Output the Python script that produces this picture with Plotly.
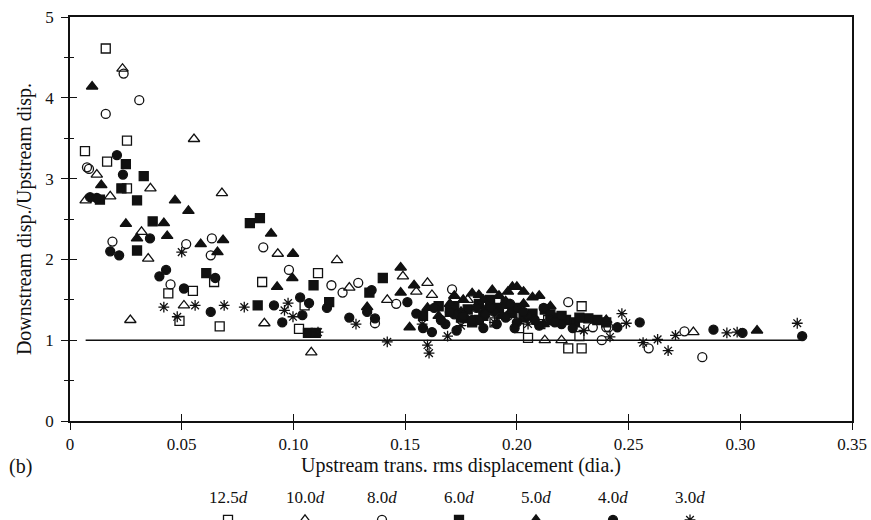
import plotly.graph_objects as go

# Upstream transverse rms displacement (dia.) and displacement ratio, by spacing
sq_open_x = [0.016, 0.0067, 0.0255, 0.0166, 0.0255, 0.044, 0.055, 0.049, 0.067, 0.0645, 0.086, 0.111,
             0.105, 0.1025, 0.229, 0.205, 0.223, 0.229, 0.228, 0.214, 0.201, 0.2105, 0.190]
sq_open_y = [4.61, 3.34, 3.47, 3.21, 2.88, 1.58, 1.61, 1.24, 1.17, 1.72, 1.72, 1.83,
             1.43, 1.14, 1.42, 1.03, 0.90, 0.90, 1.05, 1.25, 1.15, 1.20, 1.22]

tri_open_x = [0.0235, 0.0555, 0.012, 0.036, 0.007, 0.018, 0.032, 0.035, 0.051, 0.027, 0.068, 0.093,
              0.087, 0.108, 0.1195, 0.160, 0.162, 0.142, 0.149, 0.178, 0.2125, 0.220, 0.279, 0.189,
              0.155, 0.207, 0.125]
tri_open_y = [4.36, 3.49, 3.05, 2.88, 2.73, 2.78, 2.34, 2.01, 1.43, 1.25, 2.82, 2.07,
              1.21, 0.85, 1.99, 1.71, 1.56, 1.50, 1.79, 1.50, 1.00, 1.00, 1.10, 1.40,
              1.60, 1.30, 1.65]

cir_open_x = [0.024, 0.031, 0.016, 0.0076, 0.0085, 0.019, 0.052, 0.045, 0.0635, 0.063, 0.0865, 0.098,
              0.117, 0.129, 0.122, 0.171, 0.1365, 0.223, 0.234, 0.241, 0.238, 0.240, 0.259, 0.275,
              0.283, 0.146, 0.196]
cir_open_y = [4.30, 3.97, 3.80, 3.14, 3.12, 2.22, 2.19, 1.69, 2.26, 2.05, 2.15, 1.87,
              1.68, 1.71, 1.59, 1.63, 1.21, 1.47, 1.16, 1.16, 1.00, 1.16, 0.90, 1.11,
              0.79, 1.45, 1.30]

sq_fill_x = [0.025, 0.033, 0.023, 0.030, 0.0134, 0.037, 0.030, 0.0805, 0.085, 0.061, 0.109, 0.116,
             0.084, 0.1065, 0.110, 0.140, 0.134, 0.207, 0.2125, 0.170, 0.175, 0.180, 0.185, 0.192,
             0.198, 0.203, 0.218, 0.222, 0.226, 0.232, 0.236, 0.165, 0.158,
             0.172, 0.178, 0.183, 0.188, 0.195, 0.200, 0.215, 0.220, 0.228, 0.240, 0.183]
sq_fill_y = [3.18, 3.03, 2.88, 2.73, 2.74, 2.47, 2.11, 2.45, 2.51, 1.83, 1.68, 1.47,
             1.43, 1.09, 1.09, 1.77, 1.59, 1.33, 1.38, 1.35, 1.28, 1.22, 1.30, 1.40,
             1.34, 1.28, 1.28, 1.25, 1.22, 1.27, 1.25, 1.42, 1.30,
             1.42, 1.38, 1.45, 1.50, 1.45, 1.40, 1.32, 1.30, 1.28, 1.22, 1.25]

tri_fill_x = [0.0099, 0.014, 0.047, 0.053, 0.025, 0.042, 0.030, 0.0435, 0.0585, 0.0685, 0.066, 0.090,
              0.0998, 0.0995, 0.0927, 0.148, 0.154, 0.148, 0.133, 0.152, 0.160, 0.189, 0.198, 0.200,
              0.207, 0.183, 0.3075, 0.170, 0.176, 0.186, 0.193, 0.203, 0.212, 0.165, 0.178, 0.195, 0.240,
              0.172, 0.180, 0.185, 0.192, 0.196, 0.203, 0.210, 0.215, 0.190, 0.197, 0.175]
tri_fill_y = [4.14, 2.92, 2.73, 2.60, 2.44, 2.45, 2.26, 2.29, 2.19, 2.24, 2.09, 2.32,
              2.07, 1.77, 1.66, 1.90, 1.68, 1.59, 1.41, 1.16, 1.40, 1.62, 1.66, 1.66,
              1.53, 1.56, 1.12, 1.45, 1.50, 1.38, 1.30, 1.45, 1.20, 1.30, 1.25, 1.48, 1.25,
              1.55, 1.58, 1.50, 1.55, 1.60, 1.60, 1.55, 1.42, 1.40, 1.35, 1.35]

cir_fill_x = [0.021, 0.0237, 0.009, 0.012, 0.018, 0.022, 0.0358, 0.040, 0.043, 0.051, 0.063, 0.0913,
              0.103, 0.095, 0.104, 0.107, 0.065, 0.135, 0.133, 0.1365, 0.151, 0.155, 0.255, 0.245,
              0.288, 0.301, 0.3277, 0.168, 0.172, 0.180, 0.185, 0.190, 0.195, 0.200, 0.205, 0.210,
              0.215, 0.220, 0.225, 0.162, 0.188, 0.197, 0.115, 0.125,
              0.170, 0.176, 0.182, 0.186, 0.191, 0.199, 0.203, 0.208, 0.212, 0.217, 0.173, 0.166,
              0.158, 0.163]
cir_fill_y = [3.29, 3.05, 2.77, 2.76, 2.10, 2.05, 2.26, 1.79, 1.87, 1.64, 1.35, 1.43,
              1.53, 1.22, 1.31, 1.46, 1.77, 1.62, 1.35, 1.27, 1.47, 1.33, 1.22, 1.16,
              1.13, 1.09, 1.05, 1.20, 1.32, 1.25, 1.15, 1.35, 1.28, 1.22, 1.30, 1.18,
              1.25, 1.20, 1.15, 1.10, 1.40, 1.45, 1.40, 1.28,
              1.35, 1.30, 1.40, 1.32, 1.20, 1.15, 1.35, 1.25, 1.40, 1.22, 1.12, 1.25,
              1.15, 1.40]

ast_x = [0.042, 0.056, 0.050, 0.048, 0.069, 0.078, 0.0976, 0.096, 0.0998, 0.111, 0.128, 0.142,
         0.1576, 0.160, 0.1607, 0.169, 0.247, 0.249, 0.2417, 0.2565, 0.263, 0.2677, 0.271, 0.294,
         0.2986, 0.3255, 0.175, 0.190, 0.205, 0.230]
ast_y = [1.41, 1.43, 2.09, 1.29, 1.43, 1.41, 1.46, 1.37, 1.29, 1.10, 1.20, 0.98,
         1.20, 0.94, 0.84, 1.05, 1.33, 1.21, 1.04, 0.97, 1.01, 0.87, 1.06, 1.09,
         1.10, 1.21, 1.18, 1.22, 1.20, 1.12]

# unit-ratio reference line
ref_x = [0.007, 0.328]
ref_y = [1.0, 1.0]

series_names = ["12.5<i>d</i>", "10.0<i>d</i>", "8.0<i>d</i>", "6.0<i>d</i>",
                "5.0<i>d</i>", "4.0<i>d</i>", "3.0<i>d</i>"]

FONT = "Liberation Serif"
INK = "#111111"

series = [
    (sq_open_x, sq_open_y, "square-open", 9),
    (tri_open_x, tri_open_y, "triangle-up-open", 10),
    (cir_open_x, cir_open_y, "circle-open", 9),
    (sq_fill_x, sq_fill_y, "square", 9),
    (tri_fill_x, tri_fill_y, "triangle-up", 10),
    (cir_fill_x, cir_fill_y, "circle", 9),
    (ast_x, ast_y, "asterisk-open", 9),
]

fig = go.Figure()

fig.add_trace(go.Scatter(x=ref_x, y=ref_y, mode="lines",
                         line=dict(color=INK, width=1.6), showlegend=False))

for (xs, ys, sym, sz), name in zip(series, series_names):
    fig.add_trace(go.Scatter(
        x=xs, y=ys, mode="markers", name=" ",
        marker=dict(symbol=sym, size=sz, color=INK, line=dict(color=INK, width=1.3)),
        showlegend=True,
    ))

# companion axes carry the inward half of the crossing tick marks
fig.add_trace(go.Scatter(x=[], y=[], xaxis="x2", yaxis="y2", showlegend=False))

tick_font = dict(family=FONT, size=17, color=INK)
title_font = dict(family=FONT, size=20, color=INK)

fig.update_layout(
    width=871, height=520,
    margin=dict(l=70, r=19, t=17, b=99, autoexpand=False),
    paper_bgcolor="white", plot_bgcolor="white",
    font=dict(family=FONT, size=16, color=INK),
    xaxis=dict(range=[0, 0.35], tickvals=[0, 0.05, 0.10, 0.15, 0.20, 0.25, 0.30, 0.35],
               ticktext=["0", "0.05", "0.10", "0.15", "0.20", "0.25", "0.30", "0.35"],
               ticks="outside", ticklen=7, tickwidth=1.3, tickcolor=INK,
               showline=True, linecolor=INK, linewidth=1.5, mirror=True,
               showgrid=False, zeroline=False, tickfont=tick_font,
               title=dict(text="Upstream trans. rms displacement (dia.)", font=title_font, standoff=4)),
    yaxis=dict(range=[0, 5], tickvals=[0, 1, 2, 3, 4, 5],
               ticks="outside", ticklen=7, tickwidth=1.3, tickcolor=INK,
               minor=dict(dtick=0.5, ticks="outside", ticklen=4, tickwidth=1.2, tickcolor=INK),
               showline=True, linecolor=INK, linewidth=1.5, mirror=True,
               showgrid=False, zeroline=False, tickfont=tick_font, ticklabelstandoff=4,
               title=dict(text="Downstream disp./Upstream disp.", font=title_font, standoff=8)),
    xaxis2=dict(overlaying="x", matches="x", anchor="y2", side="bottom",
                tickvals=[0.05, 0.10, 0.15, 0.20, 0.25, 0.30],
                ticks="inside", ticklen=7, tickwidth=1.3, tickcolor=INK,
                showticklabels=False, showgrid=False, zeroline=False, showline=False),
    yaxis2=dict(overlaying="y", matches="y", anchor="x2", side="left",
                tickvals=[1, 2, 3, 4],
                ticks="inside", ticklen=7, tickwidth=1.3, tickcolor=INK,
                minor=dict(dtick=0.5, ticks="inside", ticklen=4, tickwidth=1.2, tickcolor=INK),
                showticklabels=False, showgrid=False, zeroline=False, showline=False),
    legend=dict(orientation="h", x=(208 - 70) / 782, xanchor="left", y=-0.203, yanchor="top",
                entrywidth=32, entrywidthmode="pixels", itemwidth=30,
                font=dict(family=FONT, size=16, color=INK), bgcolor="rgba(0,0,0,0)"),
    showlegend=True,
)

# panel tag and the spacing labels set above the legend symbols
fig.add_annotation(text="(b)", xref="paper", yref="paper", x=(20 - 70) / 782, y=-0.112,
                   xanchor="center", yanchor="middle", showarrow=False,
                   font=dict(family=FONT, size=20, color=INK))
for i, name in enumerate(series_names):
    fig.add_annotation(text=name, xref="paper", yref="paper",
                       x=(228 + 77 * i - 70) / 782, y=(421 - 497) / 404,
                       xanchor="center", yanchor="middle", showarrow=False,
                       font=dict(family=FONT, size=17, color=INK))

fig.write_html("out.html")
